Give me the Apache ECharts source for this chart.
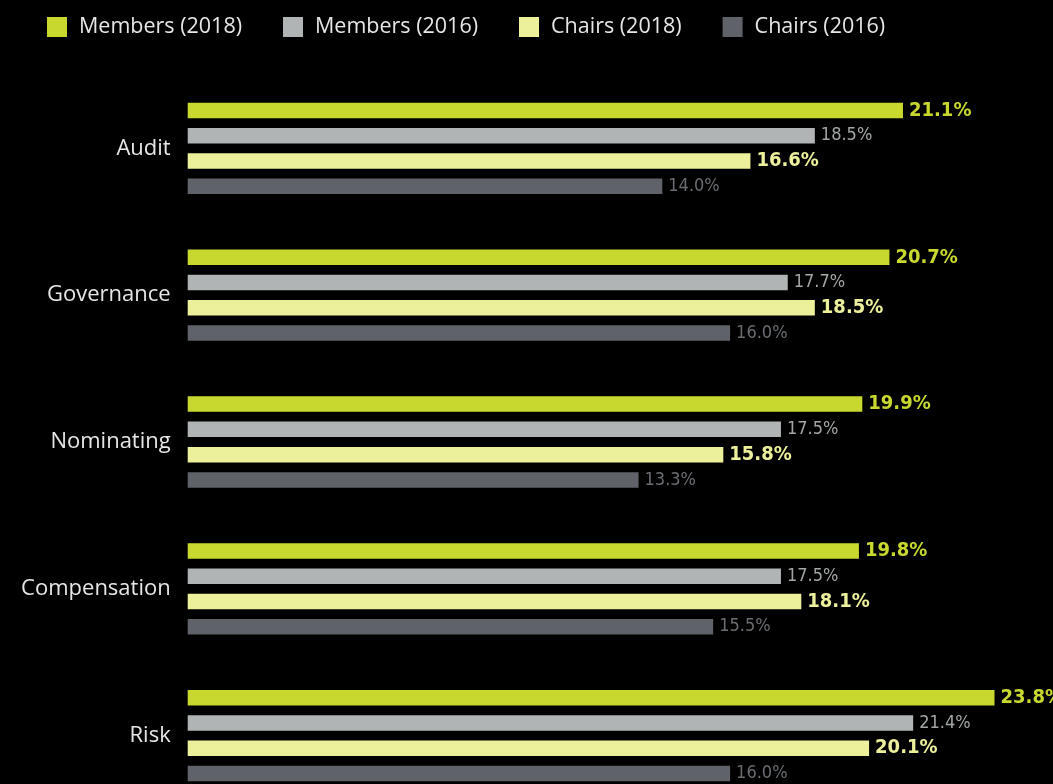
<!DOCTYPE html>
<html>
<head>
<meta charset="utf-8">
<style>
html,body{margin:0;padding:0;background:#000;overflow:hidden;}
#chart{width:1053px;height:820px;}
</style>
<script src="https://cdn.jsdelivr.net/npm/echarts@6/dist/echarts.min.js"></script>
</head>
<body>
<div id="chart"></div>
<script>
var categories = ['Audit', 'Governance', 'Nominating', 'Compensation', 'Risk'];
var membersNew = [21.1, 20.7, 19.9, 19.8, 23.8];
var membersOld = [18.5, 17.7, 17.5, 17.5, 21.4];
var chairsNew = [16.6, 18.5, 15.8, 18.1, 20.1];
var chairsOld = [14.0, 16.0, 13.3, 15.5, 16.0];
var seriesNames = ['Members (2018)', 'Members (2016)', 'Chairs (2018)', 'Chairs (2016)'];

var colors = ['#c8d82f', '#b1b4b5', '#edf09a', '#5f6269'];
var labelColors = ['#c8d82f', '#a3a6a7', '#edf09a', '#6a6d72'];
var labelWeights = ['bold', 'normal', 'bold', 'normal'];
var labelSizes = [20, 18, 20, 18];
var dataSets = [membersNew, membersOld, chairsNew, chairsOld];

var chart = echarts.init(document.getElementById('chart'));
var series = dataSets.map(function (d, i) {
  return {
    name: seriesNames[i],
    type: 'bar',
    data: d,
    barWidth: 15.5,
    barGap: '63%',
    itemStyle: { color: colors[i] },
    label: {
      show: true,
      position: 'right',
      distance: 6,
      color: labelColors[i],
      fontFamily: '"DejaVu Sans Condensed", sans-serif',
      fontWeight: labelWeights[i],
      fontSize: labelSizes[i],
      formatter: function (p) { return p.value.toFixed(1) + '%'; }
    }
  };
});

chart.setOption({
  backgroundColor: '#000',
  animation: false,
  legend: {
    left: 42,
    top: 11,
    itemWidth: 20,
    itemHeight: 20,
    itemGap: 41,
    icon: 'rect',
    textStyle: { color: '#e6e6e6', fontSize: 21.5, fontFamily: 'Open Sans', padding: [0, 0, 0, 7] },
    data: seriesNames
  },
  grid: { left: 187.7, top: 75, width: 847.5, height: 734, containLabel: false },
  xAxis: {
    type: 'value', min: 0, max: 25,
    show: false
  },
  yAxis: {
    type: 'category',
    data: categories,
    inverse: true,
    axisLine: { show: false },
    axisTick: { show: false },
    splitLine: { show: false },
    axisLabel: { color: '#e6e6e6', fontSize: 22, fontFamily: 'Open Sans', margin: 17 }
  },
  series: series
});
</script>
</body>
</html>
